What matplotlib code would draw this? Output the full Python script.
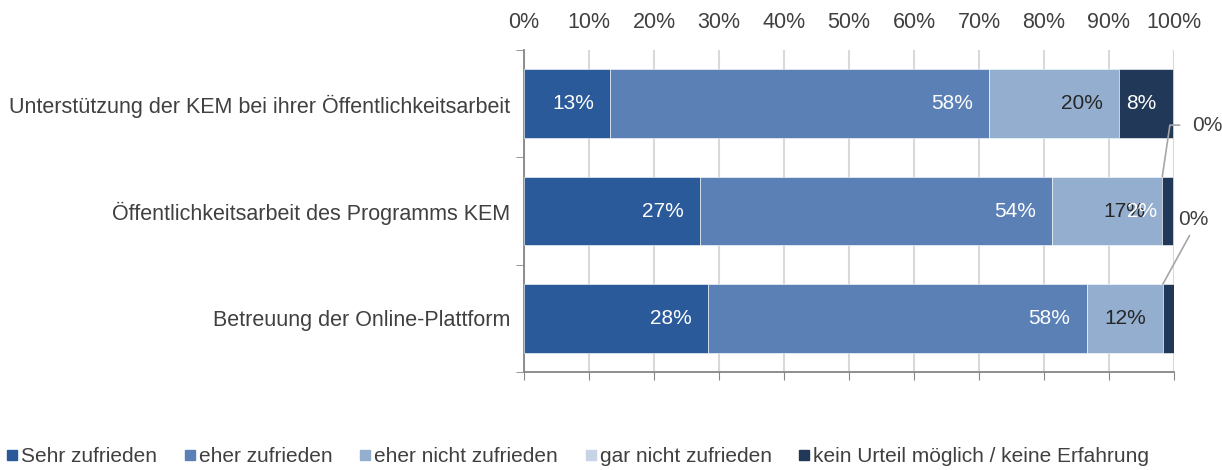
import matplotlib.pyplot as plt
import numpy as np
from matplotlib.lines import Line2D

plt.rcParams['font.family'] = ['Liberation Sans', 'DejaVu Sans']

# Daten
categories = ['Unterstützung der KEM bei ihrer Öffentlichkeitsarbeit',
              'Öffentlichkeitsarbeit des Programms KEM',
              'Betreuung der Online-Plattform']
series = ['Sehr zufrieden', 'eher zufrieden', 'eher nicht zufrieden',
          'gar nicht zufrieden', 'kein Urteil möglich / keine Erfahrung']
sehr = [13.3, 27.1, 28.3]
eher = [58.3, 54.2, 58.3]
eher_nicht = [20.0, 16.9, 11.7]
gar_nicht = [0.0, 0.0, 0.0]
kein_urteil = [8.3, 1.7, 1.7]
x_ticks = list(range(0, 101, 10))

colors = ['#2a5a99', '#5b80b6', '#93aecf', '#c6d4e6', '#223858']
label_colors = ['white', 'white', '#262626', '#262626', 'white']
txt = '#404040'

values = np.array([sehr, eher, eher_nicht, gar_nicht, kein_urteil])
y = np.arange(len(categories))
bar_h = 0.64

fig = plt.figure(figsize=(12.22, 4.70), dpi=100)
ax = fig.add_axes([0.4288, 0.2085, 0.9607 - 0.4288, 0.8936 - 0.2085])

left = np.zeros(len(categories))
for s, vals in enumerate(values):
    ax.barh(y, vals, left=left, height=bar_h, color=colors[s],
            edgecolor='white', linewidth=0.4, zorder=3, label=series[s])
    for i, v in enumerate(vals):
        if v <= 0:
            continue
        if s == 4 and i == 2:  # dieses Label ist im Original verdeckt
            continue
        ax.annotate(f'{int(round(v))}%', (left[i] + v, y[i]),
                    xytext=(-12, 0), textcoords='offset points',
                    ha='right', va='center', fontsize=15,
                    color=label_colors[s], zorder=5)
    left += vals

# 0%-Labels mit Führungslinien (gar nicht zufrieden)
start_gar = values[0] + values[1] + values[2]
ax.annotate('0%', xy=(start_gar[1], y[1] - bar_h / 2), xytext=(102.8, 0.2),
            ha='left', va='center', fontsize=15, color=txt,
            annotation_clip=False,
            arrowprops=dict(arrowstyle='-', color='#a6a6a6', lw=1.2,
                            shrinkA=7, shrinkB=0, relpos=(0, 0.5),
                            connectionstyle='angle,angleA=0,angleB=81.6,rad=0'))
ax.annotate('0%', xy=(start_gar[2], y[2] - bar_h / 2), xytext=(100.6, 1.08),
            ha='left', va='center', fontsize=15, color=txt,
            annotation_clip=False,
            arrowprops=dict(arrowstyle='-', color='#a6a6a6', lw=1.2,
                            shrinkA=3, shrinkB=0, relpos=(0.5, 0)))

ax.set_xlim(0, 100)
ax.set_ylim(len(categories) - 0.5, -0.5)
ax.set_xticks(x_ticks)
ax.set_xticklabels([f'{t}%' for t in x_ticks])
ax.tick_params(axis='x', top=False, bottom=True, labeltop=True, labelbottom=False,
               direction='out', length=6, color='#868686', labelsize=15.5,
               labelcolor=txt, pad=6)
ax.set_yticks(y)
ax.set_yticklabels(categories)
ax.set_yticks(np.arange(-0.5, len(categories)), minor=True)
ax.tick_params(axis='y', which='major', length=0, labelsize=15.5, labelcolor=txt, pad=10)
ax.tick_params(axis='y', which='minor', length=6, direction='out', color='#868686')

ax.grid(axis='x', color='#d9d9d9', linewidth=1.5, zorder=0)
ax.set_axisbelow(True)
for side in ['top', 'right']:
    ax.spines[side].set_visible(False)
for side in ['left', 'bottom']:
    ax.spines[side].set_color('#868686')
    ax.spines[side].set_linewidth(1.3)

handles = [Line2D([], [], marker='s', linestyle='', markersize=7,
                  markerfacecolor=c, markeredgecolor=c) for c in colors]
fig.legend(handles, series, loc='lower left', bbox_to_anchor=(-0.004, -0.018),
           ncol=5, frameon=False, fontsize=15, labelcolor=txt,
           handlelength=0.45, handletextpad=0.2, columnspacing=1.35,
           borderaxespad=0.2)

fig.savefig('out.png', dpi=100)
